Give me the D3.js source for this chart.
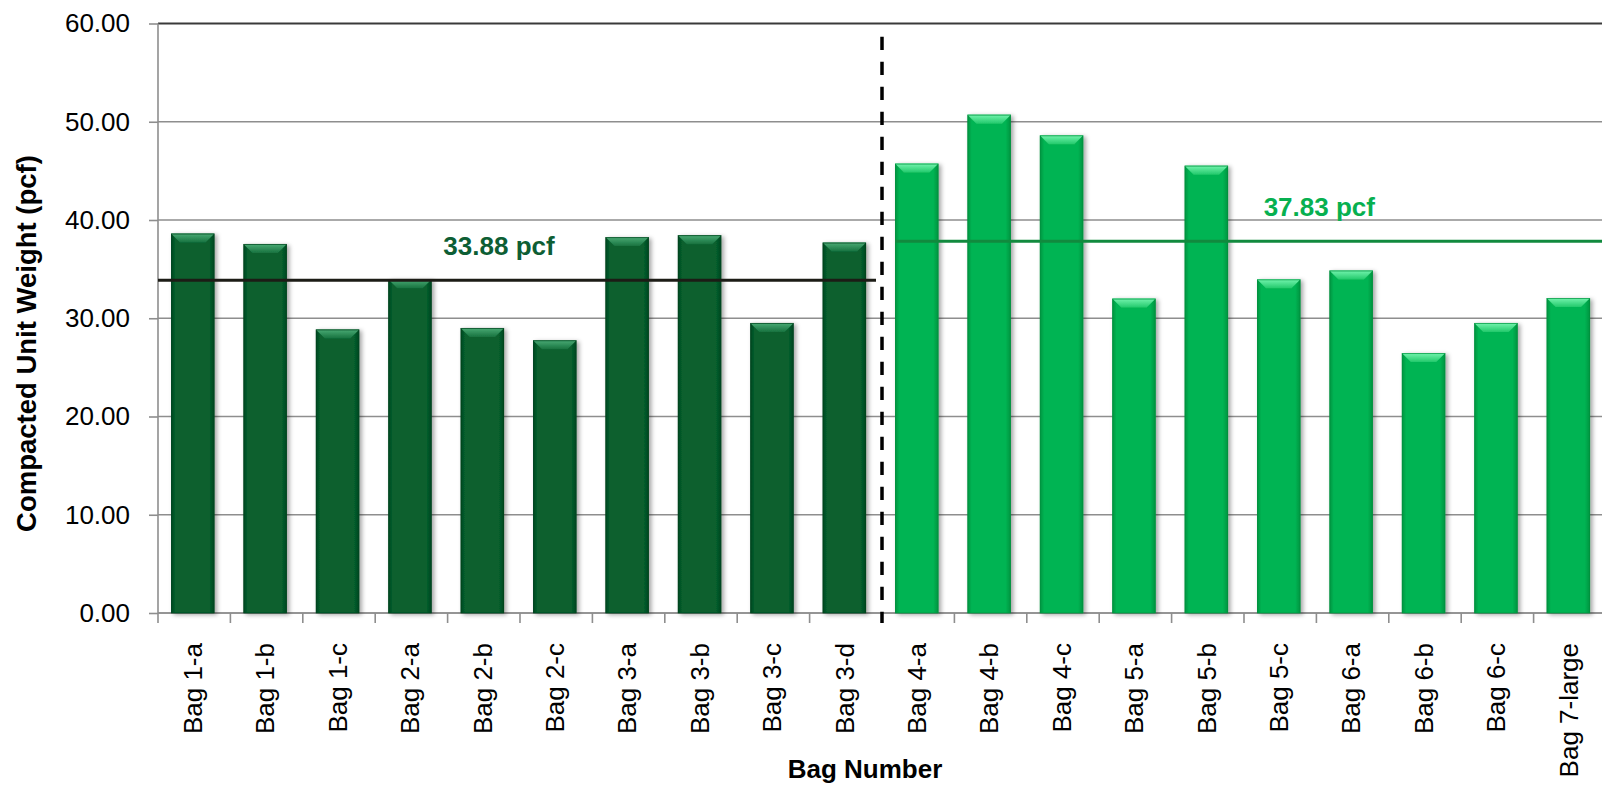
<!DOCTYPE html>
<html>
<head>
<meta charset="utf-8">
<script src="https://cdn.jsdelivr.net/npm/d3@7"></script>
<style>
  html, body { margin: 0; padding: 0; background: #ffffff; }
  svg { display: block; }
  text { font-family: "Liberation Sans", Arial, sans-serif; }
</style>
</head>
<body>
<svg id="chart" width="1602" height="790"></svg>
<script>
// Compacted unit weight per bag sample
const categories = [
  "Bag 1-a", "Bag 1-b", "Bag 1-c", "Bag 2-a", "Bag 2-b", "Bag 2-c",
  "Bag 3-a", "Bag 3-b", "Bag 3-c", "Bag 3-d",
  "Bag 4-a", "Bag 4-b", "Bag 4-c", "Bag 5-a", "Bag 5-b", "Bag 5-c",
  "Bag 6-a", "Bag 6-b", "Bag 6-c", "Bag 7-large"
];
const weights = [
  38.62, 37.56, 28.86, 33.96, 29.01, 27.76, 38.26, 38.46, 29.52, 37.70,
  45.74, 50.72, 48.62, 32.00, 45.53, 33.96, 34.86, 26.46, 29.52, 32.06
];
// group of each bag: 0 = bags 1-3, 1 = bags 4-7
const groupOf = [0,0,0,0,0,0,0,0,0,0, 1,1,1,1,1,1,1,1,1,1];
const groupAverages = [33.88, 37.83];
const averageLabels = ["33.88 pcf", "37.83 pcf"];
const yTicks = [0, 10, 20, 30, 40, 50, 60];

const svg = d3.select("#chart");
const plot = { left: 158, right: 1606, top: 23.5, bottom: 613 };

const x = d3.scaleBand().domain(categories).range([plot.left, plot.right]).paddingInner(0).paddingOuter(0);
const y = d3.scaleLinear().domain([0, 60]).range([plot.bottom, plot.top]);
const step = x.step();
const barW = step * 0.6;
const barOff = step * 0.18;

const palettes = [
  { body: "#07602e", edge: "#03451f", bevTop: "#4aab75", bevBot: "#17723f", line: "#1c1c16", label: "#0d5e34" },
  { body: "#04b453", edge: "#02923f", bevTop: "#74f4ae", bevBot: "#22c96b", line: "#118a3e", label: "#07b050" }
];

// gradients and shadow
const defs = svg.append("defs");
palettes.forEach((p, i) => {
  const h = defs.append("linearGradient").attr("id", "body" + i)
    .attr("x1", 0).attr("x2", 1).attr("y1", 0).attr("y2", 0);
  h.append("stop").attr("offset", "0%").attr("stop-color", p.edge);
  h.append("stop").attr("offset", "10%").attr("stop-color", p.body);
  h.append("stop").attr("offset", "88%").attr("stop-color", p.body);
  h.append("stop").attr("offset", "100%").attr("stop-color", p.edge);
  const v = defs.append("linearGradient").attr("id", "bevel" + i)
    .attr("x1", 0).attr("x2", 0).attr("y1", 0).attr("y2", 1);
  v.append("stop").attr("offset", "0%").attr("stop-color", p.bevTop);
  v.append("stop").attr("offset", "100%").attr("stop-color", p.bevBot);
});
const shadow = defs.append("filter").attr("id", "shadow")
  .attr("x", "-20%").attr("y", "-5%").attr("width", "150%").attr("height", "115%");
shadow.append("feDropShadow").attr("dx", 2.5).attr("dy", 1.5).attr("stdDeviation", 2)
  .attr("flood-color", "#000").attr("flood-opacity", 0.35);

// horizontal gridlines
svg.append("g").selectAll("line").data(yTicks).join("line")
  .attr("x1", plot.left).attr("x2", plot.right)
  .attr("y1", d => y(d)).attr("y2", d => y(d))
  .attr("stroke", d => d === 60 ? "#3a3a3a" : "#8e8e8e")
  .attr("stroke-width", d => d === 60 ? 2.2 : 1.6);

// y axis
const yAxis = d3.axisLeft(y).tickValues(yTicks).tickFormat(d3.format(".2f"))
  .tickSize(9).tickPadding(19);
const yg = svg.append("g").attr("transform", `translate(${plot.left},0)`).call(yAxis);
yg.select(".domain").remove();
yg.selectAll(".tick line").attr("stroke", "#8e8e8e").attr("stroke-width", 1.6);
yg.selectAll(".tick text").attr("font-size", 26).attr("fill", "#000");
svg.append("line").attr("x1", plot.left).attr("x2", plot.left)
  .attr("y1", plot.top).attr("y2", plot.bottom + 10)
  .attr("stroke", "#8e8e8e").attr("stroke-width", 1.6);

// x axis line, boundary ticks and labels
svg.append("line").attr("x1", plot.left).attr("x2", plot.right)
  .attr("y1", plot.bottom).attr("y2", plot.bottom)
  .attr("stroke", "#8e8e8e").attr("stroke-width", 1.6);
svg.append("g").selectAll("line").data(categories).join("line")
  .attr("x1", d => x(d) + step).attr("x2", d => x(d) + step)
  .attr("y1", plot.bottom).attr("y2", plot.bottom + 10)
  .attr("stroke", "#8e8e8e").attr("stroke-width", 1.6);
const xAxis = d3.axisBottom(x).tickSize(0).tickPadding(0);
const xg = svg.append("g").attr("transform", `translate(0,${plot.bottom})`).call(xAxis);
xg.select(".domain").remove();
xg.selectAll(".tick text")
  .attr("font-size", 26).attr("fill", "#000")
  .attr("text-anchor", "end")
  .attr("transform", "translate(0,30) rotate(-90)")
  .attr("x", 0).attr("y", 0).attr("dy", "0.3em");

// bars
const bars = svg.append("g").selectAll("g").data(categories).join("g")
  .attr("filter", "url(#shadow)");
bars.each(function (c, i) {
  const g = d3.select(this);
  const gi = groupOf[i];
  const x0 = x(c) + barOff;
  const yt = y(weights[i]);
  const h = plot.bottom - yt;
  const b = 9;
  g.append("rect").attr("x", x0).attr("y", yt).attr("width", barW).attr("height", h)
    .attr("fill", `url(#body${gi})`);
  g.append("polygon")
    .attr("points", [[x0, yt], [x0 + barW, yt], [x0 + barW - b, yt + b], [x0 + b, yt + b]].map(p => p.join(",")).join(" "))
    .attr("fill", `url(#bevel${gi})`);
  g.append("rect").attr("x", x0 + 0.5).attr("y", yt + 0.5).attr("width", barW - 1).attr("height", h - 0.5)
    .attr("fill", "none").attr("stroke", palettes[gi].edge).attr("stroke-width", 1).attr("stroke-opacity", 0.7);
});

// group averages
const splitX = x(categories[10]);
svg.append("line")
  .attr("x1", plot.left).attr("x2", splitX - 6)
  .attr("y1", y(groupAverages[0])).attr("y2", y(groupAverages[0]))
  .attr("stroke", palettes[0].line).attr("stroke-width", 3);
svg.append("line")
  .attr("x1", splitX + barOff).attr("x2", plot.right)
  .attr("y1", y(groupAverages[1])).attr("y2", y(groupAverages[1]))
  .attr("stroke", palettes[1].line).attr("stroke-width", 3);

const labelAt = [plot.left + step * 4.71, plot.left + step * 16.04];
svg.append("g").selectAll("text").data(groupAverages).join("text")
  .attr("x", (d, i) => labelAt[i])
  .attr("y", d => y(d) - 25)
  .attr("text-anchor", "middle")
  .attr("font-size", 26).attr("font-weight", "bold")
  .attr("fill", (d, i) => palettes[i].label)
  .text((d, i) => averageLabels[i]);

// divider between the two bag groups
svg.append("line")
  .attr("x1", splitX).attr("x2", splitX)
  .attr("y1", 36.7).attr("y2", plot.bottom + 10)
  .attr("stroke", "#000").attr("stroke-width", 3.5)
  .attr("stroke-dasharray", "13.3,11.7");

// axis titles
svg.append("text")
  .attr("transform", "translate(36,343.5) rotate(-90)")
  .attr("text-anchor", "middle")
  .attr("font-size", 27.5).attr("font-weight", "bold").attr("fill", "#000")
  .text("Compacted Unit Weight (pcf)");
svg.append("text")
  .attr("x", 865).attr("y", 778)
  .attr("text-anchor", "middle")
  .attr("font-size", 26).attr("font-weight", "bold").attr("fill", "#000")
  .text("Bag Number");
</script>
</body>
</html>
